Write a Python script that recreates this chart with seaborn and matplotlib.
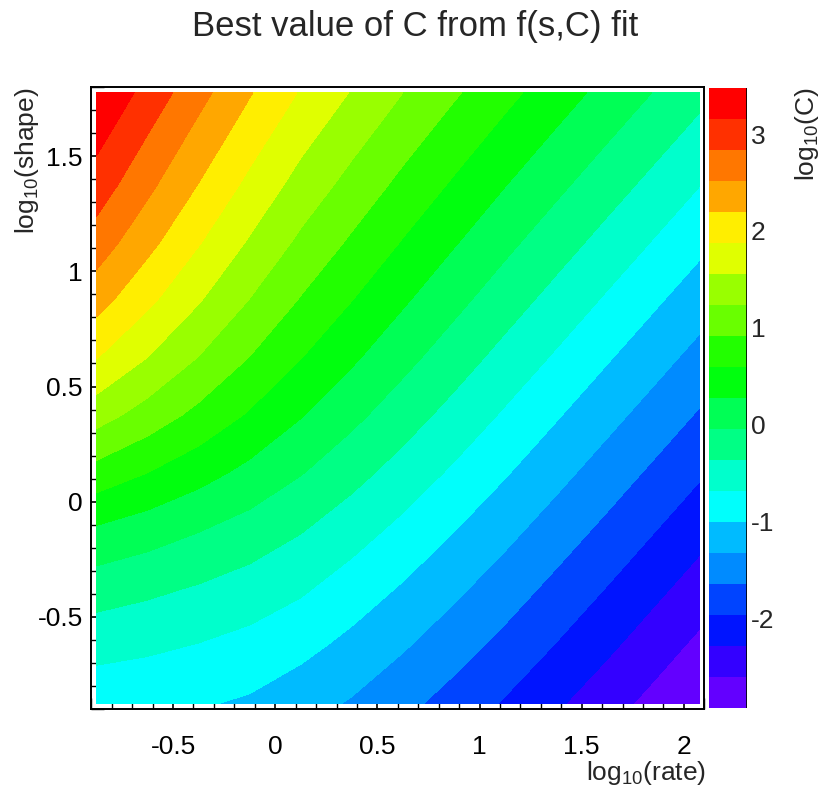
import colorsys
import numpy as np
import matplotlib
matplotlib.use("Agg")
import matplotlib.pyplot as plt
from matplotlib.ticker import MultipleLocator, FuncFormatter
import seaborn as sns

# bin centres of the fit grid
log_rate = [-0.875, -0.625, -0.375, -0.125, 0.125, 0.375, 0.625,
            0.875, 1.125, 1.375, 1.625, 1.875, 2.075]
log_shape = [-0.875, -0.625, -0.375, -0.125, 0.125, 0.375,
             0.625, 0.875, 1.125, 1.375, 1.625, 1.775]

# best-fit log10(C), one list per log_shape row
c_shape_m0875 = [-0.907, -0.935, -0.975, -1.050, -1.200, -1.357, -1.559, -1.773, -1.998, -2.241, -2.480, -2.726, -2.928]
c_shape_m0625 = [-0.572, -0.629, -0.701, -0.790, -0.914, -1.096, -1.294, -1.512, -1.741, -1.982, -2.228, -2.478, -2.678]
c_shape_m0375 = [-0.216, -0.297, -0.391, -0.501, -0.640, -0.831, -1.036, -1.258, -1.489, -1.732, -1.978, -2.228, -2.428]
c_shape_m0125 = [0.226, 0.101, -0.034, -0.180, -0.348, -0.554, -0.771, -1.000, -1.236, -1.481, -1.728, -1.978, -2.178]
c_shape_p0125 = [0.790, 0.593, 0.392, 0.186, -0.029, -0.260, -0.496, -0.737, -0.981, -1.229, -1.478, -1.728, -1.928]
c_shape_p0375 = [1.368, 1.096, 0.826, 0.558, 0.293, 0.035, -0.221, -0.474, -0.727, -0.978, -1.228, -1.478, -1.678]
c_shape_p0625 = [1.887, 1.553, 1.226, 0.907, 0.602, 0.323, 0.050, -0.213, -0.473, -0.726, -0.978, -1.228, -1.428]
c_shape_p0875 = [2.323, 1.947, 1.581, 1.226, 0.893, 0.599, 0.315, 0.044, -0.220, -0.475, -0.728, -0.978, -1.178]
c_shape_p1125 = [2.692, 2.289, 1.897, 1.520, 1.169, 0.866, 0.574, 0.299, 0.032, -0.225, -0.478, -0.728, -0.928]
c_shape_p1375 = [3.012, 2.593, 2.186, 1.796, 1.435, 1.126, 0.830, 0.552, 0.283, 0.026, -0.228, -0.478, -0.678]
c_shape_p1625 = [3.301, 2.873, 2.458, 2.060, 1.693, 1.381, 1.083, 0.803, 0.534, 0.276, 0.022, -0.228, -0.428]
c_shape_p1775 = [3.477, 3.043, 2.623, 2.220, 1.849, 1.535, 1.235, 0.954, 0.684, 0.426, 0.172, -0.078, -0.278]

Z = np.array([c_shape_m0875, c_shape_m0625, c_shape_m0375, c_shape_m0125,
              c_shape_p0125, c_shape_p0375, c_shape_p0625, c_shape_p0875,
              c_shape_p1125, c_shape_p1375, c_shape_p1625, c_shape_p1775])

N_CONT = 20

sns.set_style("ticks")
plt.rcParams["font.family"] = ["Liberation Sans", "DejaVu Sans"]
plt.rcParams["mathtext.fontset"] = "custom"
plt.rcParams["mathtext.rm"] = "Liberation Sans"
plt.rcParams["mathtext.default"] = "regular"
plt.rcParams["axes.unicode_minus"] = False


def root_pretty_palette(n=50):
    # old ROOT "pretty" palette: violet -> red in HLS
    cols = []
    for i in range(n):
        hue = 280 - (i + 1) * 280.0 / n
        cols.append(colorsys.hls_to_rgb(hue / 360.0, 0.5, 1.0))
    return cols


pal = root_pretty_palette()
band_colors = [pal[int((j + 0.99) * len(pal) / N_CONT)] for j in range(N_CONT)]
levels = np.linspace(Z.min(), Z.max(), N_CONT + 1)

fig = plt.figure(figsize=(8.3, 7.97), dpi=100)
ax = fig.add_axes([0.110, 0.1104, 0.7386, 0.7804])
cax = fig.add_axes([0.8546, 0.1117, 0.0451, 0.7779])

cs = ax.contourf(log_rate, log_shape, Z, levels=levels, colors=band_colors)

ax.set_xlim(-0.9, 2.1)
ax.set_ylim(-0.9, 1.8)
ax.xaxis.set_major_locator(MultipleLocator(0.5))
ax.xaxis.set_minor_locator(MultipleLocator(0.1))
ax.yaxis.set_major_locator(MultipleLocator(0.5))
ax.yaxis.set_minor_locator(MultipleLocator(0.1))
fmt = FuncFormatter(lambda v, p: f"{v:g}")
ax.xaxis.set_major_formatter(fmt)
ax.yaxis.set_major_formatter(fmt)
ax.tick_params(which="both", direction="in", top=False, right=False,
               labelsize=19, colors="black")
ax.tick_params(axis="x", which="major", length=17, width=1.2, pad=19)
ax.tick_params(axis="x", which="minor", length=8, width=1.0)
ax.tick_params(axis="y", which="major", length=19, width=1.2, pad=6)
ax.tick_params(axis="y", which="minor", length=9, width=1.0)
for sp in ax.spines.values():
    sp.set_color("black")
    sp.set_linewidth(1.4)

ax.set_xlabel("log$_{10}$(rate)", fontsize=19, loc="right")
ax.xaxis.set_label_coords(1.003, -0.081)
ax.xaxis.label.set_va("top")
ax.set_ylabel("log$_{10}$(shape)", fontsize=19, loc="top")
ax.yaxis.set_label_coords(-0.082, 1.0)

cb = fig.colorbar(cs, cax=cax)
cb.outline.set_visible(False)
cax.axvline(1, color="black", lw=1.2)
cb.set_ticks([-2, -1, 0, 1, 2, 3])
cb.ax.yaxis.set_major_formatter(fmt)
cax.tick_params(direction="in", length=18, width=1.2, labelsize=19, pad=3,
                left=False, right=True)
cax.minorticks_off()
fig.text(0.972, 0.890, "log$_{10}$(C)", rotation=90, fontsize=19,
         ha="center", va="top")

fig.suptitle("Best value of C from f(s,C) fit", fontsize=25, y=0.987)

fig.savefig("out.png", dpi=100)
